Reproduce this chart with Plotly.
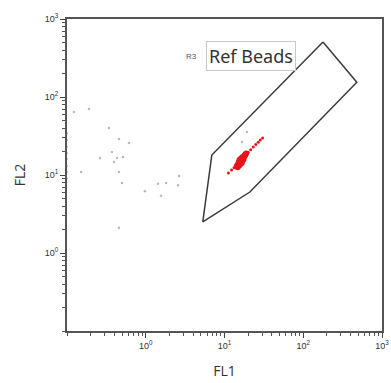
import plotly.graph_objects as go

# Gray events outside the gate (FL1, FL2)
gray_fl1 = [0.123, 0.190, 0.341, 0.457, 0.612, 0.372, 0.262, 0.431, 0.514, 0.395,
            0.151, 0.457, 0.499, 2.64, 1.43, 1.81, 2.57, 0.977, 1.56, 0.457, 19.3, 16.7]
gray_fl2 = [64.3, 70.2, 40.1, 28.9, 25.7, 19.7, 16.5, 16.5, 17.0, 14.7,
            10.9, 10.9, 7.9, 9.7, 7.7, 7.9, 7.4, 6.2, 5.4, 2.1, 35.6, 26.5]

# Red gated bead events: dense core (FL1, FL2)
core_fl1 = [14.3, 14.8, 15.3, 15.8, 16.3, 16.8, 17.3, 17.8, 18.3, 18.8,
            15.0, 15.6, 16.2, 16.8, 17.4, 15.2, 15.8, 16.4, 17.0, 17.6, 18.2,
            14.7, 15.4, 16.0, 16.6, 15.5, 16.1, 16.8]
core_fl2 = [13.0, 13.6, 14.2, 14.8, 15.4, 16.0, 16.6, 17.3, 18.0, 18.8,
            13.3, 13.9, 14.5, 15.1, 15.8, 14.6, 15.2, 15.9, 16.6, 17.3, 18.0,
            12.6, 13.2, 13.8, 14.4, 15.6, 16.2, 16.9]

# Red gated bead events: sparse tail (FL1, FL2)
tail_fl1 = [20.0, 21.5, 23.2, 25.0, 26.8, 28.5, 30.5, 13.2, 12.3, 11.2]
tail_fl2 = [19.6, 21.0, 22.8, 24.6, 26.2, 28.0, 29.8, 12.4, 11.6, 10.6]

# Events piled on the FL1 minimum (drawn on the axis)
edge_fl1 = [0.1, 0.1, 0.1, 0.1, 0.1, 0.1, 0.1, 0.1]
edge_fl2 = [9.0, 11.0, 13.0, 16.0, 19.0, 23.0, 28.0, 34.0]

# R3 gate polygon vertices (FL1, FL2)
gate_fl1 = [178, 479, 21, 5.3, 6.9, 178]
gate_fl2 = [507, 155, 6.05, 2.5, 18, 507]

tick_vals = [1, 10, 100, 1000]
tick_text = ["10<sup>0</sup>", "10<sup>1</sup>", "10<sup>2</sup>", "10<sup>3</sup>"]

fig = go.Figure()
fig.add_trace(go.Scatter(x=gate_fl1, y=gate_fl2, mode="lines",
                         line=dict(color="#3a3a3a", width=1.5), hoverinfo="skip"))
fig.add_trace(go.Scatter(x=gray_fl1, y=gray_fl2, mode="markers",
                         marker=dict(color="#b8b8b8", size=2.5)))
fig.add_trace(go.Scatter(x=edge_fl1, y=edge_fl2, mode="markers",
                         marker=dict(color="#e05a5a", size=2, opacity=0.6)))
fig.add_trace(go.Scatter(x=tail_fl1, y=tail_fl2, mode="markers",
                         marker=dict(color="#e8141b", size=3)))
fig.add_trace(go.Scatter(x=core_fl1, y=core_fl2, mode="markers",
                         marker=dict(color="#e8141b", size=6)))


def make_axis(title):
    return dict(
        type="log", range=[-1, 3], tickvals=tick_vals, ticktext=tick_text,
        automargin=False,
        showgrid=False, zeroline=False, showline=True, mirror=True,
        linecolor="#555555", linewidth=2,
        ticks="outside", ticklen=5, tickcolor="#444444", tickwidth=1,
        tickfont=dict(family="Liberation Sans", size=9, color="#333333"),
        minor=dict(dtick="D1", ticks="outside", ticklen=3, tickcolor="#555555",
                   tickwidth=1, showgrid=False),
        title=dict(text=title, standoff=16,
                   font=dict(family="Open Sans", size=14, color="#333333")),
    )


fig.add_annotation(x=1.337, y=2.526, xref="x", yref="y", text="Ref Beads", showarrow=False,
                   font=dict(family="Noto Sans", size=18, color="#333333"),
                   bordercolor="#c8c8c8", borderwidth=1, borderpad=2, bgcolor="white")
fig.add_annotation(x=0.587, y=2.515, xref="x", yref="y", text="R3", showarrow=False,
                   font=dict(family="Liberation Sans", size=8, color="#555555"))

fig.update_layout(
    width=391, height=383, showlegend=False,
    margin=dict(l=67, r=9, t=19, b=52),
    plot_bgcolor="white", paper_bgcolor="white",
    xaxis=make_axis("FL1"),
    yaxis=make_axis("FL2"),
)
fig.write_html("out.html")
